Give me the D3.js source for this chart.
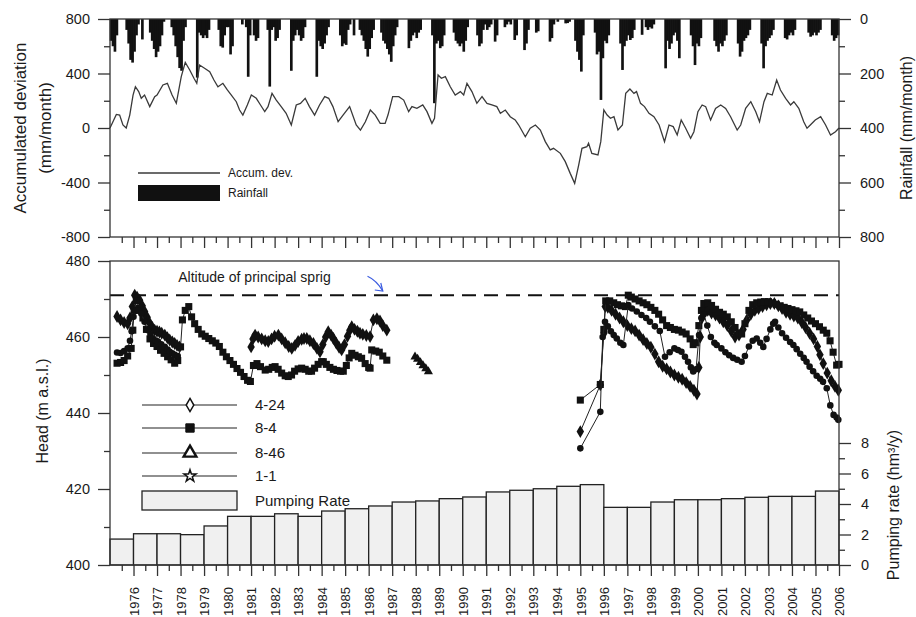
<!DOCTYPE html>
<html>
<head>
<meta charset="utf-8">
<script src="https://cdn.jsdelivr.net/npm/d3@7"></script>
<style>
  body { margin: 0; background: #fff; }
  text { font-family: "Liberation Sans", Arial, sans-serif; fill: #1a1a1a; }
</style>
</head>
<body>
<svg id="chart" width="916" height="617"></svg>
<script>
// --- data ---
const rainYears = [1975,1976,1977,1978,1979,1980,1981,1982,1983,1984,1985,1986,1987,1988,1989,1990,
                   1991,1992,1993,1994,1995,1996,1997,1998,1999,2000,2001,2002,2003,2004,2005];
// monthly rainfall (mm), Jan..Dec
const rainfall = [
  [80,100,120,60,0,0,0,0,40,90,150,160],
  [120,60,20,0,75,0,0,0,50,80,110,140],
  [120,100,60,10,0,0,0,30,60,100,140,180],
  [190,80,30,0,0,0,0,0,215,50,60,70],
  [60,70,40,0,0,0,0,40,100,105,60,30],
  [30,130,100,0,0,0,0,20,0,30,212,60],
  [0,60,80,70,0,0,0,0,40,248,40,30],
  [80,70,40,0,0,0,0,0,190,80,60,40],
  [60,80,70,30,0,0,0,0,0,212,80,100],
  [110,90,60,30,0,0,0,0,0,60,100,90],
  [95,40,20,0,60,0,0,40,60,80,110,138],
  [110,70,40,0,0,0,50,80,90,110,130,157],
  [100,60,30,0,0,0,0,0,107,80,60,50],
  [70,50,40,0,0,0,0,0,60,309,90,80],
  [107,100,60,0,0,0,0,50,80,90,100,90],
  [120,80,30,0,0,0,0,60,100,90,40,20],
  [40,30,20,0,83,60,0,0,0,30,20,10],
  [20,0,77,60,0,0,0,114,90,40,0,0],
  [0,50,45,0,0,0,0,0,83,70,20,0],
  [10,0,0,0,16,15,10,0,0,80,120,150],
  [193,60,0,0,0,0,0,50,130,120,297,144],
  [80,89,60,0,0,0,0,0,90,187,100,80],
  [60,77,70,40,0,0,0,58,0,30,40,30],
  [35,20,0,0,0,0,0,181,80,110,90,60],
  [50,80,144,0,0,0,0,0,60,100,169,90],
  [100,70,0,0,0,0,0,0,80,100,120,90],
  [100,80,60,0,0,0,0,0,90,138,120,80],
  [70,60,40,0,0,0,0,0,90,181,100,80],
  [70,60,40,0,0,0,0,0,70,75,60,50],
  [60,40,0,0,0,0,0,0,50,65,60,50],
  [60,50,40,0,0,0,0,0,60,80,70,60]
];

// accumulated deviation [year, mm]
const accDev = [[1975.00,0],[1975.27,100],[1975.41,95],[1975.55,22],[1975.69,0],[1975.84,95],[1975.98,242],[1976.08,303],[1976.22,267],[1976.33,218],[1976.47,242],[1976.69,157],[1976.90,230],[1977.00,242],[1977.25,316],[1977.44,328],[1977.64,242],[1977.82,181],[1978.03,377],[1978.20,482],[1978.39,426],[1978.57,365],[1978.69,328],[1978.81,462],[1979.02,438],[1979.24,413],[1979.42,352],[1979.59,303],[1979.80,328],[1979.99,279],[1980.16,242],[1980.37,193],[1980.51,132],[1980.65,95],[1980.84,169],[1981.01,242],[1981.22,218],[1981.40,169],[1981.58,120],[1981.72,157],[1981.89,254],[1982.07,205],[1982.28,157],[1982.49,108],[1982.71,22],[1982.92,169],[1983.10,181],[1983.30,218],[1983.48,157],[1983.70,95],[1983.91,169],[1984.13,230],[1984.30,218],[1984.48,157],[1984.70,46],[1984.91,95],[1985.19,157],[1985.47,22],[1985.65,-15],[1985.86,46],[1986.07,132],[1986.28,95],[1986.49,34],[1986.70,34],[1986.82,95],[1987.02,230],[1987.28,230],[1987.49,205],[1987.70,120],[1987.84,157],[1988.05,144],[1988.30,169],[1988.48,120],[1988.69,34],[1988.80,71],[1988.95,389],[1989.09,365],[1989.26,377],[1989.47,303],[1989.68,242],[1989.90,267],[1990.04,242],[1990.18,328],[1990.39,267],[1990.60,181],[1990.82,230],[1991.03,181],[1991.24,169],[1991.45,157],[1991.60,108],[1991.81,132],[1992.02,83],[1992.23,59],[1992.38,22],[1992.66,-64],[1992.87,-2],[1993.09,22],[1993.30,-15],[1993.51,-100],[1993.72,-161],[1993.86,-149],[1994.15,-186],[1994.36,-247],[1994.57,-333],[1994.76,-406],[1994.93,-272],[1995.07,-149],[1995.28,-137],[1995.35,-112],[1995.49,-186],[1995.75,-198],[1995.87,-100],[1996.00,132],[1996.14,95],[1996.28,71],[1996.43,83],[1996.60,-15],[1996.79,22],[1996.93,254],[1997.11,286],[1997.28,254],[1997.39,267],[1997.56,181],[1997.73,157],[1997.92,108],[1998.13,83],[1998.35,22],[1998.58,-100],[1998.77,22],[1998.95,10],[1999.12,-51],[1999.29,59],[1999.48,-2],[1999.69,-76],[1999.83,-27],[2000.00,120],[2000.18,169],[2000.33,157],[2000.54,59],[2000.75,144],[2000.97,169],[2001.18,144],[2001.39,83],[2001.67,-15],[2001.82,22],[2002.03,144],[2002.25,193],[2002.46,120],[2002.62,46],[2002.81,193],[2002.95,254],[2003.16,242],[2003.35,352],[2003.51,279],[2003.73,218],[2003.94,169],[2004.08,193],[2004.29,144],[2004.50,46],[2004.64,-2],[2004.78,22],[2004.99,59],[2005.22,83],[2005.43,22],[2005.64,-51],[2005.85,-27],[2006.00,0]];

// heads (m a.s.l.), each well = list of segments of [year, head]
const well424 = [
  [[1975.30,465.4],[1975.45,464.5],[1975.60,463.8],[1975.75,463.5],[1975.85,465],[1975.95,468],[1976.05,471],[1976.15,470.5],[1976.26,469.7],[1976.37,468.2],[1976.47,466.7],[1976.58,465.2],[1976.69,463.6],[1976.80,462.5],[1976.90,461.8],[1977.00,461.5],[1977.10,461.3],[1977.20,461],[1977.33,460.5],[1977.44,459.8],[1977.54,459.2],[1977.65,458.7],[1977.75,458.3],[1977.85,457.8],[1977.96,457.4]],
  [[1981.00,457.4],[1981.08,459.5],[1981.17,460.5],[1981.30,460],[1981.45,459.5],[1981.60,459],[1981.73,458.8],[1981.87,459.5],[1982.00,460.2],[1982.16,460.5],[1982.30,459.5],[1982.45,458.5],[1982.60,457.5],[1982.73,457],[1982.87,457.8],[1983.00,458.8],[1983.15,459.4],[1983.25,459.6],[1983.37,459.6],[1983.50,459],[1983.65,458.3],[1983.80,457],[1983.93,456.1],[1984.05,458],[1984.17,460],[1984.28,461.4],[1984.40,460.5],[1984.50,459.6],[1984.62,458.4],[1984.74,457.3],[1984.85,456.6],[1984.97,458],[1985.10,460.2],[1985.20,461.8],[1985.28,462.7],[1985.40,462],[1985.52,461.5],[1985.63,461],[1985.75,460.7],[1985.90,460.4],[1986.06,460.1],[1986.20,464.5],[1986.35,464.8],[1986.48,464.2],[1986.60,463],[1986.77,461.8]],
  [[1995.00,435.1],[1995.85,447.4],[1996.00,461],[1996.06,468],[1996.17,467.8],[1996.33,467],[1996.50,466],[1996.67,465],[1996.83,464],[1997.00,463],[1997.17,462.2],[1997.33,461.6],[1997.50,460.5],[1997.67,459.3],[1997.83,458.3],[1998.00,457.3],[1998.17,455.5],[1998.33,453.5],[1998.50,452.3],[1998.67,451.6],[1998.83,450.8],[1999.00,450],[1999.17,449.4],[1999.33,448.9],[1999.50,448],[1999.67,447],[1999.83,446],[1999.96,445],[2000.04,452],[2000.10,460],[2000.17,465],[2000.25,467.5],[2000.42,467],[2000.58,466.3],[2000.75,465.8],[2000.92,465],[2001.08,464],[2001.25,463],[2001.42,461.5],[2001.58,460],[2001.75,460.5],[2001.92,462],[2002.08,464.5],[2002.25,466],[2002.42,467],[2002.58,467.5],[2002.75,468],[2002.92,468.5],[2003.08,468.8],[2003.25,468.8],[2003.42,468.2],[2003.58,467.5],[2003.75,466.5],[2003.92,466],[2004.08,465.5],[2004.25,465],[2004.42,463.8],[2004.58,462.5],[2004.75,461],[2004.92,459.5],[2005.08,457.5],[2005.19,455.3],[2005.33,453],[2005.50,450.5],[2005.67,448.5],[2005.83,447],[2005.97,446]]
];
const well84 = [
  [[1975.30,453.1],[1975.45,453.3],[1975.60,453.8],[1975.75,455],[1975.90,457],[1975.97,461.8],[1976.03,467],[1976.12,469.5],[1976.25,467.5],[1976.40,465],[1976.55,462],[1976.70,459.5],[1976.85,458.3],[1977.00,457.5],[1977.15,456.5],[1977.30,455.7],[1977.45,454.8],[1977.60,454],[1977.75,453.1],[1977.88,453.8],[1978.00,457.4],[1978.08,464.5],[1978.20,467],[1978.35,468],[1978.47,465.3],[1978.60,463.5],[1978.75,462],[1978.90,460.8],[1979.05,460.2],[1979.20,459.6],[1979.35,459],[1979.50,458.4],[1979.65,457.5],[1979.80,456],[1979.95,454.8],[1980.10,453.8],[1980.25,452.8],[1980.40,451.7],[1980.55,450.7],[1980.70,449.6],[1980.85,448.6],[1980.97,448.3],[1981.10,452.5],[1981.25,453],[1981.40,452.2],[1981.60,451.3],[1981.75,451.5],[1981.90,452],[1982.02,452.2],[1982.15,451.5],[1982.30,450.5],[1982.45,449.8],[1982.58,449.6],[1982.72,450],[1982.85,451],[1983.00,451.6],[1983.15,451.8],[1983.30,451.5],[1983.45,451],[1983.57,451],[1983.70,451.8],[1983.85,452.8],[1984.00,453.5],[1984.07,453.5],[1984.20,452.8],[1984.35,452],[1984.50,451.5],[1984.65,451.2],[1984.80,451],[1984.92,451],[1985.05,452.5],[1985.17,454.5],[1985.28,455.7],[1985.42,455.2],[1985.56,454.8],[1985.70,454.4],[1985.85,453],[1986.00,452],[1986.06,451.8],[1986.13,456.6],[1986.30,456.3],[1986.45,456],[1986.60,455],[1986.77,453.9]],
  [[1995.00,443.4],[1995.85,447.5],[1996.00,462],[1996.08,469.5],[1996.25,469.5],[1996.42,469],[1996.58,468.5],[1996.75,468.2],[1996.92,468],[1997.04,471],[1997.17,470.5],[1997.33,470],[1997.50,469.5],[1997.67,469],[1997.83,468.5],[1998.00,467.8],[1998.17,467],[1998.33,466],[1998.50,464.5],[1998.67,463],[1998.83,462.5],[1999.00,462],[1999.17,461.8],[1999.33,461.3],[1999.50,460.8],[1999.67,459.5],[1999.80,458],[1999.92,458.5],[2000.04,463],[2000.15,467],[2000.25,468.8],[2000.42,469],[2000.58,468.3],[2000.75,467.3],[2000.92,466.5],[2001.08,466],[2001.25,465.3],[2001.42,464],[2001.58,462.5],[2001.75,461],[2001.86,460.8],[2002.00,463.5],[2002.17,467],[2002.33,468.5],[2002.50,469],[2002.67,469.2],[2002.83,469.3],[2003.00,469.3],[2003.17,469],[2003.33,468.6],[2003.50,468.2],[2003.67,467.8],[2003.83,467.5],[2004.00,467.2],[2004.17,466.9],[2004.33,466.6],[2004.50,465.8],[2004.67,465],[2004.83,464.2],[2005.00,463.5],[2005.17,462.7],[2005.33,461.8],[2005.48,461],[2005.62,459],[2005.75,456],[2005.90,452.6],[2006.00,452.8]]
];
const well846 = [
  [[1987.97,454.8],[1988.08,454.2],[1988.20,453.3],[1988.31,452.5],[1988.43,451.7],[1988.54,450.9]]
];
const well11 = [
  [[1975.30,455.9],[1975.45,455.8],[1975.60,456.3],[1975.75,457],[1975.85,459],[1975.92,461.5],[1976.00,465.3],[1976.10,467],[1976.20,467],[1976.33,466.2],[1976.47,464],[1976.62,461.8],[1976.72,460.5],[1976.83,459.6],[1976.95,459.1],[1977.04,458.8],[1977.18,458.1],[1977.33,457.4],[1977.45,456.7],[1977.54,456.1],[1977.65,455.7],[1977.75,455.3],[1977.88,455]],
  [[1995.00,430.7],[1995.85,440.3],[1995.95,460],[1996.05,464],[1996.17,462.8],[1996.30,461.5],[1996.42,460.5],[1996.55,459.6],[1996.70,458.5],[1996.83,457.9],[1997.04,468.4],[1997.20,467.5],[1997.40,466.7],[1997.60,465.8],[1997.80,465],[1997.96,464],[1998.17,462.8],[1998.38,461.6],[1998.60,454.8],[1998.80,456],[1999.00,457],[1999.15,456.6],[1999.30,456.1],[1999.45,454.8],[1999.58,453.5],[1999.70,452],[1999.80,450.9],[1999.92,451.5],[2000.05,460.5],[2000.15,465],[2000.25,466],[2000.40,463],[2000.55,460],[2000.70,458.5],[2000.80,457.9],[2001.00,457],[2001.17,456],[2001.33,455.2],[2001.50,454.5],[2001.67,454],[2001.86,453.5],[2002.00,455],[2002.17,457.5],[2002.33,459],[2002.50,459.6],[2002.65,458.5],[2002.78,457.4],[2002.92,459.5],[2003.08,462],[2003.20,463.5],[2003.28,464],[2003.42,462.5],[2003.58,461],[2003.75,459.8],[2003.92,458.7],[2004.06,457.9],[2004.20,456.8],[2004.35,455.6],[2004.50,454.5],[2004.62,453.5],[2004.75,452.2],[2004.90,451],[2005.05,449.8],[2005.20,449],[2005.32,448.2],[2005.48,446.5],[2005.63,442],[2005.77,439.5],[2005.90,438.8],[2005.97,438.2]]
];

const pumpYears = [1975,1976,1977,1978,1979,1980,1981,1982,1983,1984,1985,1986,1987,1988,1989,1990,
                   1991,1992,1993,1994,1995,1996,1997,1998,1999,2000,2001,2002,2003,2004,2005];
const pumping = [1.70,2.05,2.05,1.99,2.56,3.19,3.19,3.36,3.19,3.54,3.69,3.87,4.13,4.20,4.35,4.46,
                 4.79,4.90,5.00,5.16,5.27,3.78,3.78,4.13,4.28,4.28,4.35,4.44,4.50,4.50,4.85];

const springLevel = 471;
const yearTicks = [1976,1977,1978,1979,1980,1981,1982,1983,1984,1985,1986,1987,1988,1989,1990,1991,
                   1992,1993,1994,1995,1996,1997,1998,1999,2000,2001,2002,2003,2004,2005,2006];

// --- layout ---
const svg = d3.select("#chart");
const axisColor = "#333";

const x = d3.scaleLinear().domain([1975, 2006]).range([110, 839]);
const yDev = d3.scaleLinear().domain([-800, 800]).range([237, 19]);
const yRain = d3.scaleLinear().domain([0, 800]).range([19, 237]);
const yHead = d3.scaleLinear().domain([400, 480]).range([565, 261]);
const yPump = d3.scaleLinear().domain([0, 8]).range([565, 443]);

const plain = d => String(d);   // hyphen minus, as in the figure

function cleanAxis(g, fs) {
  g.select(".domain").remove();
  g.selectAll(".tick line").attr("stroke", axisColor).attr("stroke-width", 1.3);
  g.selectAll(".tick text").style("font-size", fs || "14.5px").attr("fill", "#1a1a1a");
}

// ---------- top panel ----------
const rainData = [];
rainfall.forEach((row, i) => row.forEach((v, m) => rainData.push({ t: rainYears[i] + m / 12, v: v })));
const bw = x(1975 + 1 / 12) - x(1975);

svg.append("g").selectAll("rect")
  .data(rainData.filter(d => d.v > 0))
  .enter().append("rect")
  .attr("x", d => x(d.t) - 0.3)
  .attr("width", bw + 0.7)
  .attr("y", yRain(0))
  .attr("height", d => yRain(d.v) - yRain(0))
  .attr("fill", "#111");

svg.append("path")
  .datum(accDev)
  .attr("fill", "none")
  .attr("stroke", "#3a3a3a")
  .attr("stroke-width", 1.3)
  .attr("d", d3.line().x(d => x(d[0])).y(d => yDev(d[1])));

svg.append("rect").attr("x", 110).attr("y", 19).attr("width", 729).attr("height", 218)
  .attr("fill", "none").attr("stroke", axisColor).attr("stroke-width", 1.3);

svg.append("g").attr("transform", "translate(110,0)")
  .call(d3.axisLeft(yDev).tickValues([-800, -400, 0, 400, 800]).tickSize(12).tickPadding(8).tickFormat(plain))
  .call(g => cleanAxis(g));
svg.append("g").attr("transform", "translate(110,0)")
  .call(d3.axisLeft(yDev).tickValues([-600, -200, 200, 600]).tickSize(6).tickFormat(""))
  .call(g => cleanAxis(g));
svg.append("g").attr("transform", "translate(839,0)")
  .call(d3.axisRight(yRain).tickValues([0, 200, 400, 600, 800]).tickSize(12).tickPadding(9).tickFormat(plain))
  .call(g => cleanAxis(g));
svg.append("g").attr("transform", "translate(839,0)")
  .call(d3.axisRight(yRain).tickValues([100, 300, 500, 700]).tickSize(6).tickFormat(""))
  .call(g => cleanAxis(g));

const halfYears = yearTicks.map(y => y - 0.5);
[237, 565].forEach(yy => {
  svg.append("g").attr("transform", `translate(0,${yy})`)
    .call(d3.axisBottom(x).tickValues(halfYears).tickSize(6).tickFormat(""))
    .call(g => cleanAxis(g));
});
svg.append("g").attr("transform", "translate(0,237)")
  .call(d3.axisBottom(x).tickValues(yearTicks).tickSize(11).tickFormat(""))
  .call(g => cleanAxis(g));

// top legend
svg.append("line").attr("x1", 138).attr("x2", 220).attr("y1", 173).attr("y2", 173)
  .attr("stroke", "#3a3a3a").attr("stroke-width", 1.3);
svg.append("text").attr("x", 228).attr("y", 177).style("font-size", "12px").text("Accum. dev.");
svg.append("rect").attr("x", 138).attr("y", 185).attr("width", 82).attr("height", 16).attr("fill", "#111");
svg.append("text").attr("x", 228).attr("y", 197).style("font-size", "12px").text("Rainfall");

svg.append("text").attr("transform", "translate(20,128) rotate(-90)").attr("dy", "0.35em")
  .attr("text-anchor", "middle").style("font-size", "17px").text("Accumulated deviation");
svg.append("text").attr("transform", "translate(45,128) rotate(-90)").attr("dy", "0.35em")
  .attr("text-anchor", "middle").style("font-size", "17px").text("(mm/month)");
svg.append("text").attr("transform", "translate(906,128) rotate(-90)").attr("dy", "0.35em")
  .attr("text-anchor", "middle").style("font-size", "16px").text("Rainfall (mm/month)");

// ---------- bottom panel ----------
svg.append("g").selectAll("rect")
  .data(pumping)
  .enter().append("rect")
  .attr("x", (d, i) => x(pumpYears[i]))
  .attr("width", (d, i) => x(pumpYears[i] + 1) - x(pumpYears[i]))
  .attr("y", d => yPump(d))
  .attr("height", d => yPump(0) - yPump(d))
  .attr("fill", "#f0f0f0")
  .attr("stroke", "#222")
  .attr("stroke-width", 1.3);

svg.append("line")
  .attr("x1", x(1975)).attr("x2", x(2006))
  .attr("y1", yHead(springLevel)).attr("y2", yHead(springLevel))
  .attr("stroke", "#111").attr("stroke-width", 2).attr("stroke-dasharray", "14,8");

const headLine = d3.line().x(d => x(d[0])).y(d => yHead(d[1]));
const wells = [
  { segs: well424, type: d3.symbolDiamond, size: 48 },
  { segs: well84, type: d3.symbolSquare, size: 50 },
  { segs: well846, type: d3.symbolTriangle, size: 36 },
  { segs: well11, type: d3.symbolCircle, size: 34 }
];
wells.forEach(w => {
  const g = svg.append("g");
  w.segs.forEach(seg => {
    g.append("path").datum(seg).attr("fill", "none").attr("stroke", "#222")
      .attr("stroke-width", 1).attr("d", headLine);
    g.selectAll(null).data(seg).enter().append("path")
      .attr("transform", d => `translate(${x(d[0])},${yHead(d[1])})`)
      .attr("d", d3.symbol().type(w.type).size(w.size))
      .attr("fill", "#111");
  });
});

svg.append("rect").attr("x", 110).attr("y", 261).attr("width", 729).attr("height", 304)
  .attr("fill", "none").attr("stroke", axisColor).attr("stroke-width", 1.3);

svg.append("g").attr("transform", "translate(110,0)")
  .call(d3.axisLeft(yHead).tickValues([400, 420, 440, 460, 480]).tickSize(12).tickPadding(8))
  .call(g => cleanAxis(g));
svg.append("g").attr("transform", "translate(110,0)")
  .call(d3.axisLeft(yHead).tickValues([410, 430, 450, 470]).tickSize(6).tickFormat(""))
  .call(g => cleanAxis(g));
svg.append("g").attr("transform", "translate(839,0)")
  .call(d3.axisRight(yPump).tickValues([0, 2, 4, 6, 8]).tickSize(12).tickPadding(10))
  .call(g => cleanAxis(g));
svg.append("g").attr("transform", "translate(839,0)")
  .call(d3.axisRight(yPump).tickValues([1, 3, 5, 7]).tickSize(6).tickFormat(""))
  .call(g => cleanAxis(g));

svg.append("g").attr("transform", "translate(0,565)")
  .call(d3.axisBottom(x).tickValues(yearTicks).tickSize(11).tickPadding(0).tickFormat(plain))
  .call(g => cleanAxis(g, "13px"))
  .call(g => g.selectAll(".tick text")
    .attr("transform", "rotate(-90)")
    .attr("x", -22).attr("y", 0).attr("dy", "0.36em")
    .attr("text-anchor", "end"));

// annotation
svg.append("text").attr("x", x(1977.9)).attr("y", yHead(474.6))
  .style("font-size", "14px").text("Altitude of principal sprig");
const ax0 = x(1985.95), ay0 = yHead(476), ax1 = x(1986.6), ay1 = yHead(472.1);
svg.append("path")
  .attr("d", `M${ax0},${ay0} Q${ax0 + 9},${ay0 + 4} ${ax1},${ay1}`)
  .attr("fill", "none").attr("stroke", "#3a5be0").attr("stroke-width", 1.2);
svg.append("path")
  .attr("d", `M${ax1 - 8},${ay1 - 1} L${ax1},${ay1} L${ax1 - 2},${ay1 - 8}`)
  .attr("fill", "none").attr("stroke", "#3a5be0").attr("stroke-width", 1.2);

// bottom legend
const legend = [
  { label: "4-24", type: d3.symbolDiamond, y: 405, fill: "#fff", sw: 1.5, size: 50 },
  { label: "8-4", type: d3.symbolSquare, y: 428, fill: "#111", sw: 1, size: 70 },
  { label: "8-46", type: d3.symbolTriangle, y: 453, fill: "#fff", sw: 2.4, size: 70 },
  { label: "1-1", type: d3.symbolStar, y: 476, fill: "#fff", sw: 1.5, size: 45 }
];
legend.forEach(l => {
  svg.append("line").attr("x1", 142).attr("x2", 237).attr("y1", l.y).attr("y2", l.y)
    .attr("stroke", "#222").attr("stroke-width", 1.2);
  svg.append("path").attr("transform", `translate(190,${l.y})`)
    .attr("d", d3.symbol().type(l.type).size(l.size)())
    .attr("fill", l.fill).attr("stroke", "#111").attr("stroke-width", l.sw);
  svg.append("text").attr("x", 255).attr("y", l.y + 5).style("font-size", "15px").text(l.label);
});
svg.append("rect").attr("x", 142).attr("y", 491).attr("width", 95).attr("height", 19)
  .attr("fill", "#f0f0f0").attr("stroke", "#222").attr("stroke-width", 1.3);
svg.append("text").attr("x", 255).attr("y", 506).style("font-size", "15px").text("Pumping Rate");

svg.append("text").attr("transform", "translate(42,411) rotate(-90)").attr("dy", "0.35em")
  .attr("text-anchor", "middle").style("font-size", "16px").text("Head (m  a.s.l.)");
svg.append("text").attr("transform", "translate(893,505) rotate(-90)").attr("dy", "0.35em")
  .attr("text-anchor", "middle").style("font-size", "16px").text("Pumping rate (hm³/y)");
</script>
</body>
</html>
